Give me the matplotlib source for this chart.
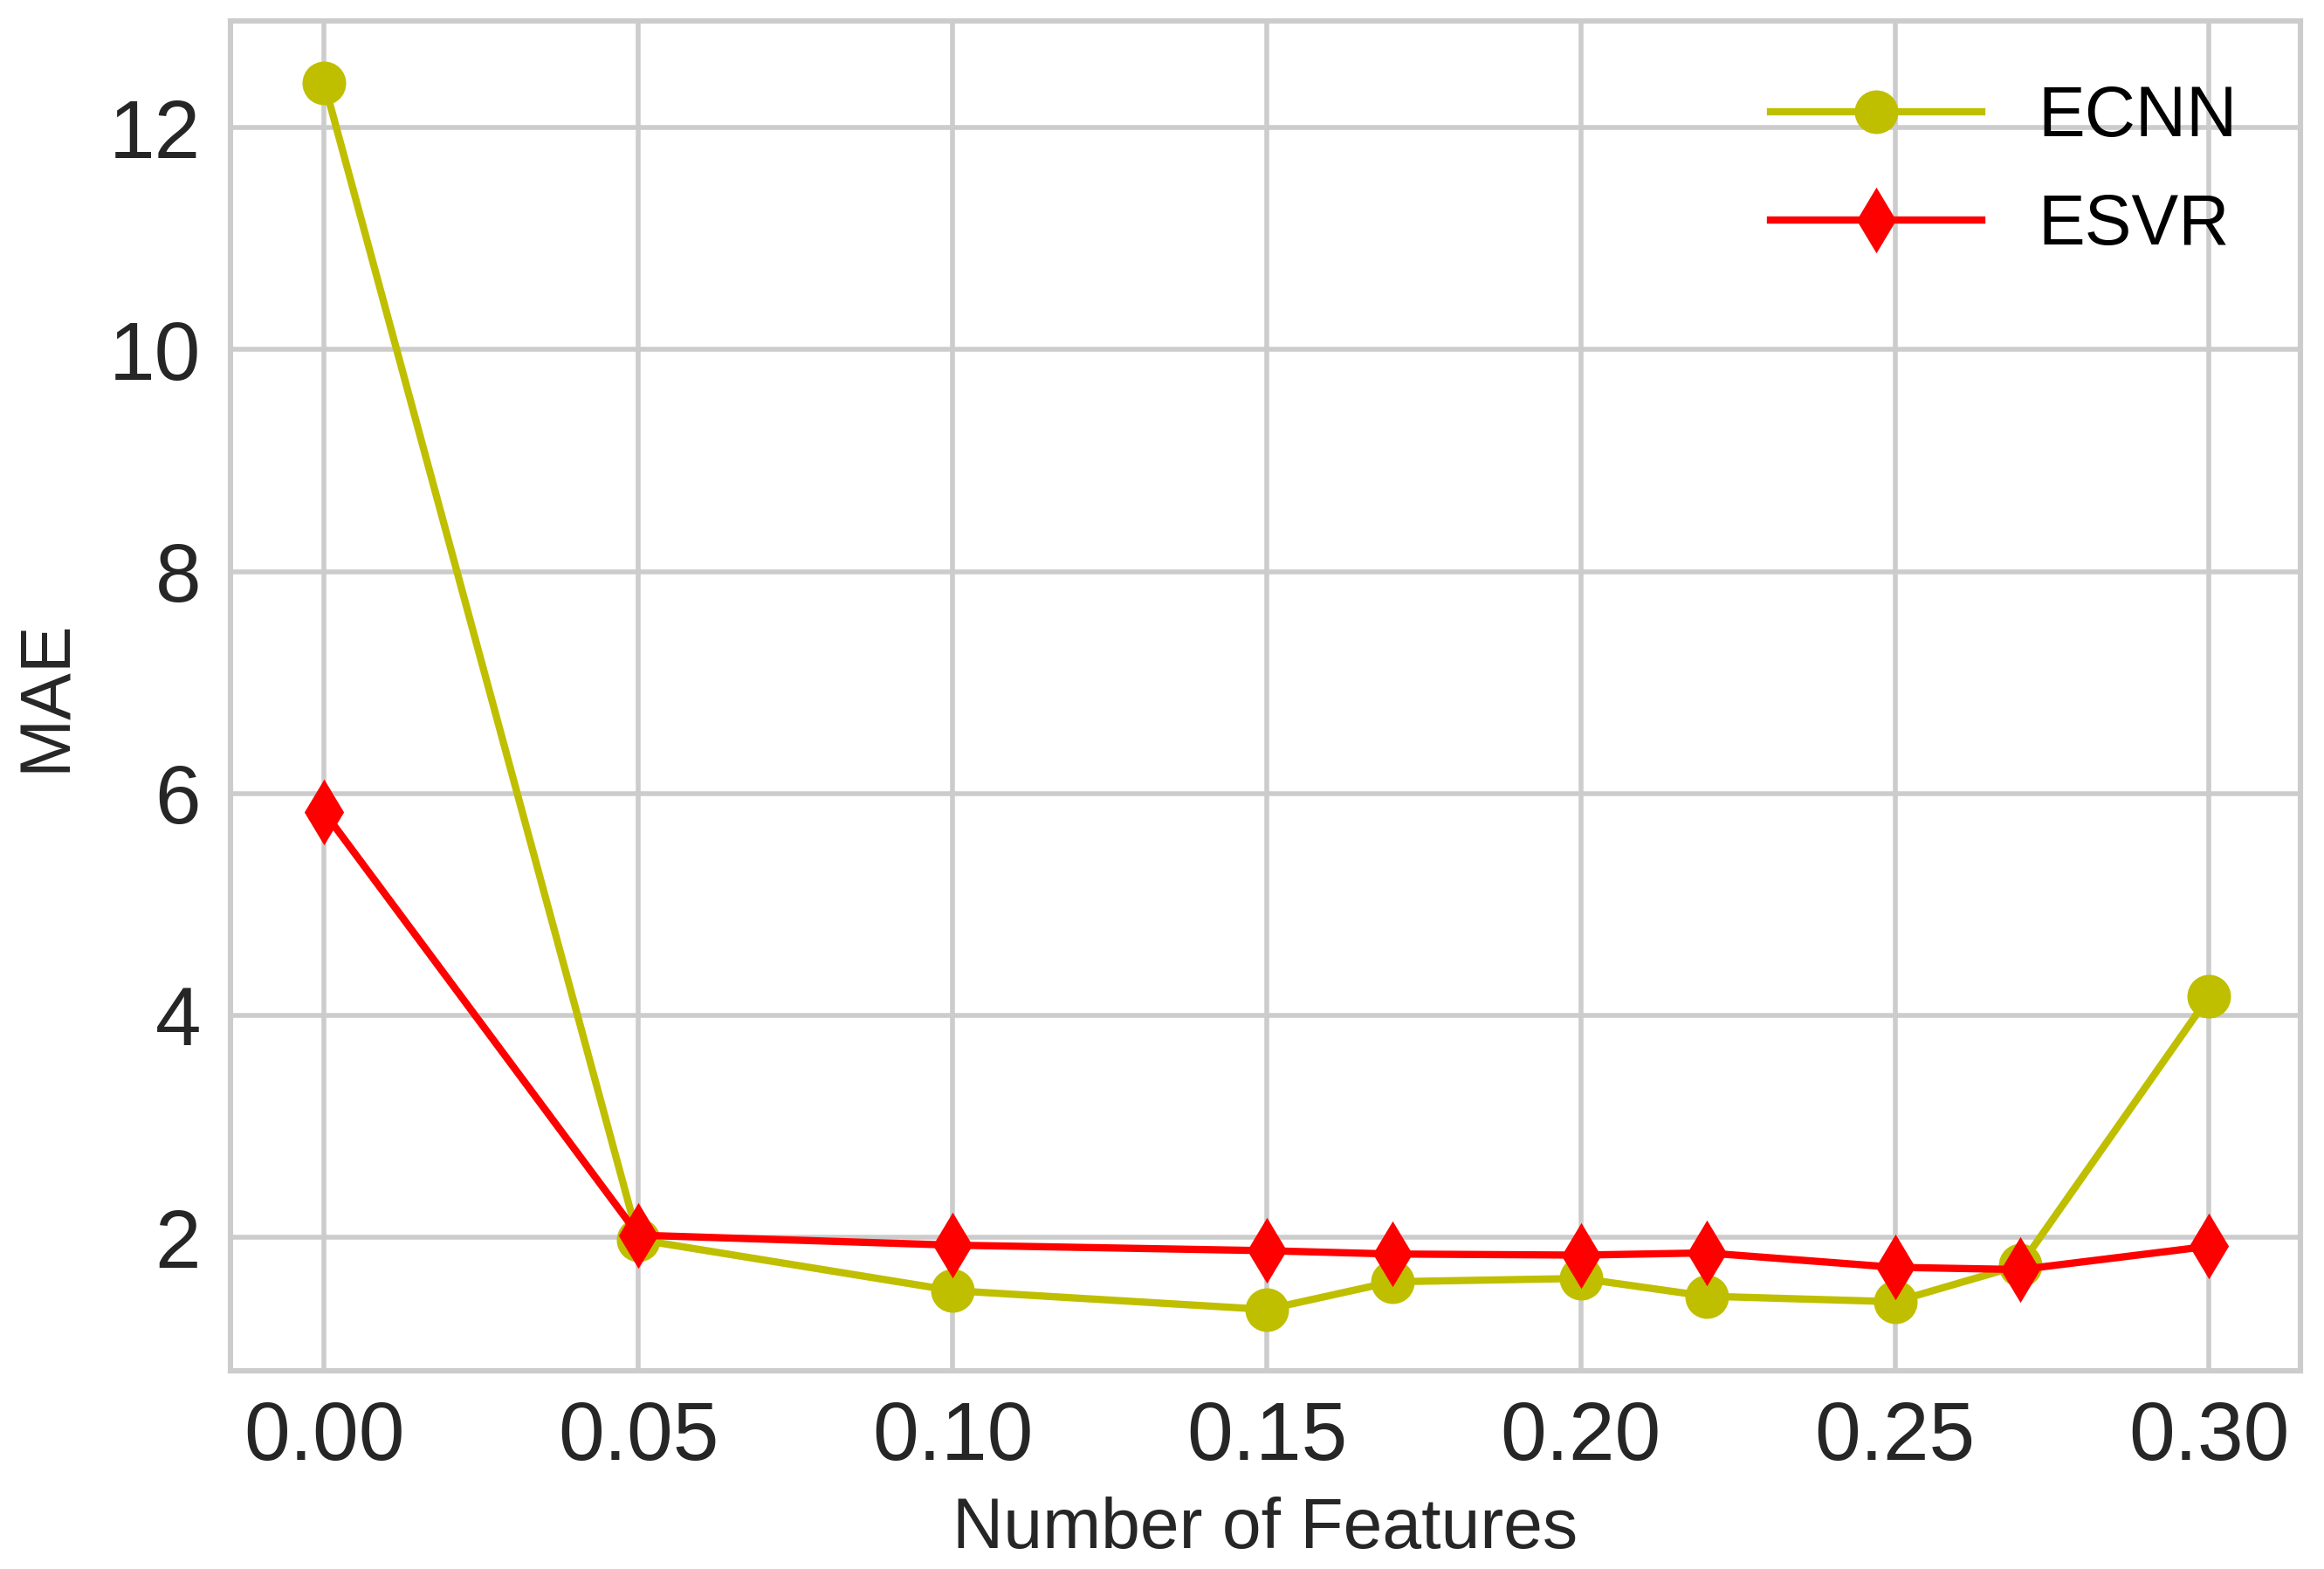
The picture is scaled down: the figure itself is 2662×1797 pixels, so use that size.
import matplotlib
matplotlib.use("Agg")
import matplotlib.pyplot as plt

x = [0.00, 0.05, 0.10, 0.15, 0.17, 0.20, 0.22, 0.25, 0.27, 0.30]
ecnn = [12.4, 1.98, 1.52, 1.35, 1.60, 1.63, 1.47, 1.42, 1.75, 4.17]
esvr = [5.83, 2.02, 1.93, 1.88, 1.85, 1.84, 1.86, 1.73, 1.71, 1.92]

plt.rcParams['font.family'] = ['Liberation Sans', 'DejaVu Sans']
fig = plt.figure(figsize=(13.31, 8.985), dpi=200)
ax = fig.add_axes([0.099, 0.1265, 0.891, 0.86])
ax.set_facecolor('white')
ax.grid(True, color='#cccccc', linewidth=2)
ax.set_axisbelow(True)
for s in ax.spines.values():
    s.set_color('#cccccc'); s.set_linewidth(2.2)
ax.plot(x, ecnn, color='#bfbf00', marker='o', markersize=17, linewidth=3, label='ECNN')
ax.plot(x, esvr, color='#ff0000', marker='d', markersize=18, linewidth=3, label='ESVR')
ax.set_xlim(-0.015, 0.3146)
ax.set_ylim(0.8, 12.96)
ax.set_yticks([2, 4, 6, 8, 10, 12])
ax.set_xticks([0.0, 0.05, 0.10, 0.15, 0.20, 0.25, 0.30])
ax.set_xticklabels(['0.00', '0.05', '0.10', '0.15', '0.20', '0.25', '0.30'])
ax.tick_params(labelsize=34, colors='#262626', length=0, pad=12)
ax.set_xlabel('Number of Features', fontsize=29, color='#262626', labelpad=8)
ax.set_ylabel('MAE', fontsize=29, color='#262626', labelpad=12)
ax.legend(loc='upper right', fontsize=29, frameon=False, handlelength=3, labelspacing=0.6, handletextpad=0.8)
fig.savefig('out.png', dpi=200)
